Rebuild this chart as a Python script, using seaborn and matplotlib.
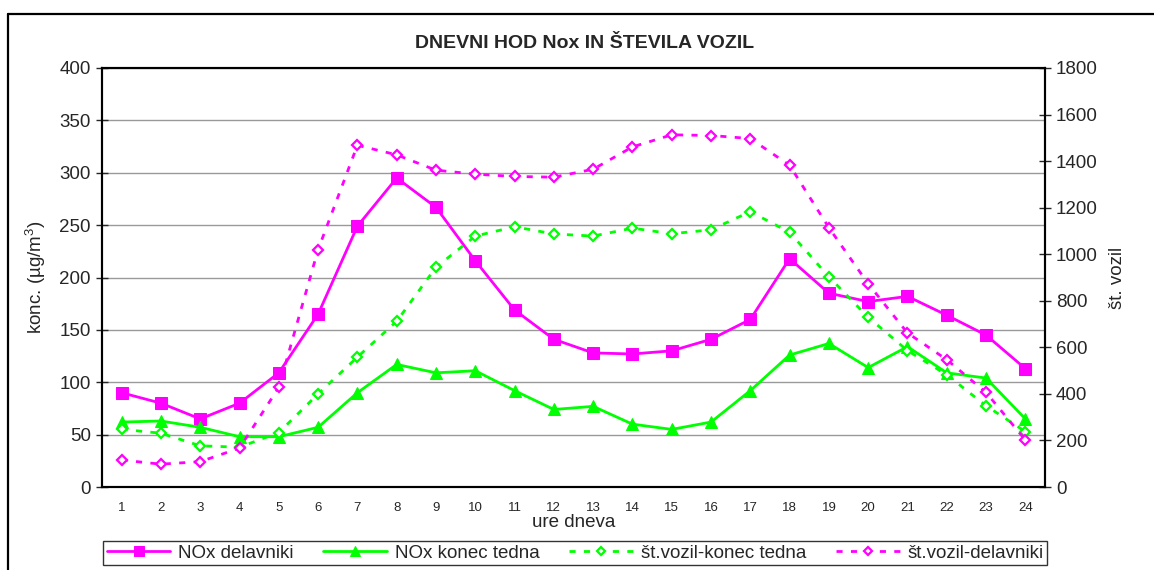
import matplotlib
matplotlib.use("Agg")
import matplotlib.pyplot as plt
import seaborn as sns
import pandas as pd
import numpy as np
from matplotlib.lines import Line2D

hours = list(range(1, 25))
nox_delavniki = [90, 80, 65, 80, 109, 165, 249, 295, 267, 216, 169, 141,
                 128, 127, 130, 141, 160, 218, 185, 177, 182, 164, 145, 113]
nox_konec_tedna = [62, 63, 57, 48, 48, 57, 90, 117, 109, 111, 92, 74,
                   77, 60, 55, 62, 92, 126, 137, 114, 134, 109, 104, 65]
vozil_konec_tedna = [248, 231, 177, 171, 234, 400, 558, 712, 944, 1078, 1118, 1087,
                     1078, 1112, 1088, 1105, 1183, 1094, 903, 729, 586, 482, 349, 238]
vozil_delavniki = [116, 98, 109, 167, 428, 1020, 1468, 1427, 1361, 1344, 1334, 1331,
                   1365, 1461, 1513, 1510, 1497, 1382, 1114, 873, 662, 547, 406, 202]
left_ticks = list(range(0, 401, 50))
right_ticks = list(range(0, 1801, 200))

sns.set_style("white")
plt.rcParams["font.family"] = ["Liberation Sans", "DejaVu Sans"]
plt.rcParams["mathtext.fontset"] = "custom"
plt.rcParams["mathtext.rm"] = "Liberation Sans"
plt.rcParams["mathtext.it"] = "Liberation Sans:italic"

df = pd.DataFrame({
    "ura": hours,
    "nox_del": nox_delavniki,
    "nox_kt": nox_konec_tedna,
    "voz_kt": vozil_konec_tedna,
    "voz_del": vozil_delavniki,
})

MAG = "#FF00FF"
GRN = "#00FF00"

fig = plt.figure(figsize=(11.54, 5.70), dpi=100)
ax = fig.add_axes([102 / 1154, 1 - 487 / 570, (1045 - 102) / 1154, (487 - 68) / 570])
ax2 = ax.twinx()

sns.lineplot(data=df, x="ura", y="nox_del", ax=ax, color=MAG, lw=2,
             marker="s", markersize=9, markeredgecolor=MAG, legend=False)
sns.lineplot(data=df, x="ura", y="nox_kt", ax=ax, color=GRN, lw=2,
             marker="^", markersize=9, markeredgecolor=GRN, legend=False)
sns.lineplot(data=df, x="ura", y="voz_kt", ax=ax2, color=GRN, lw=2,
             linestyle=(0, (2.2, 3.0)), marker="D", markersize=5,
             markerfacecolor="white", markeredgecolor=GRN, markeredgewidth=1.6, legend=False)
sns.lineplot(data=df, x="ura", y="voz_del", ax=ax2, color=MAG, lw=2,
             linestyle=(0, (2.2, 3.0)), marker="D", markersize=5,
             markerfacecolor="white", markeredgecolor=MAG, markeredgewidth=1.6, legend=False)

ax.set_xlim(0.5, 24.5)
ax.set_ylim(0, 400)
ax2.set_ylim(0, 1800)
ax.set_yticks(left_ticks)
ax2.set_yticks(right_ticks)
ax.set_xticks(hours)
ax.set_xticklabels([str(h) for h in hours], fontsize=9.5)
ax.set_xticks(np.arange(0.5, 25, 1), minor=True)
ax.tick_params(axis="x", which="major", length=0, pad=11)
ax.tick_params(axis="x", which="minor", length=8, width=1, direction="inout", color="black")
ax.tick_params(axis="y", which="major", length=8, width=1, direction="inout",
               labelsize=13.5, pad=4, left=True)
ax2.tick_params(axis="y", which="major", length=8, width=1, direction="inout",
                labelsize=13.5, pad=4, right=True)

ax.yaxis.grid(True, color="#999999", lw=1.0)
ax.set_axisbelow(True)
ax.xaxis.grid(False)
ax2.grid(False)

for a in (ax, ax2):
    for s in a.spines.values():
        s.set_color("black")
        s.set_linewidth(1.5)
        s.set_visible(True)

ax.set_xlabel("ure dneva", fontsize=13.5, labelpad=0)
ax.set_ylabel(r"konc. (µg/m$^{3}$)", fontsize=13.5, labelpad=8)
ax2.set_ylabel("št. vozil", fontsize=13.5, labelpad=8)

fig.text(585 / 1154, 1 - 43 / 570, "DNEVNI HOD Nox IN ŠTEVILA VOZIL",
         fontsize=14, fontweight="bold", ha="center", va="center")

# outer chart border
fig.add_artist(Line2D([8 / 1154, 8 / 1154], [0, 1 - 14 / 570], transform=fig.transFigure,
                      color="black", lw=1.6))
fig.add_artist(Line2D([8 / 1154, 1], [1 - 14 / 570, 1 - 14 / 570], transform=fig.transFigure,
                      color="black", lw=1.6))

lines1 = ax.get_lines()
lines2 = ax2.get_lines()
handles = [lines1[0], lines1[1], lines2[0], lines2[1]]
labels = ["NOx delavniki", "NOx konec tedna", "št.vozil-konec tedna", "št.vozil-delavniki"]
leg = fig.legend(handles, labels, ncol=4, loc="center",
                 bbox_to_anchor=((102 + 1048) / 2 / 1154, 1 - 553 / 570),
                 fontsize=13.5, frameon=True, fancybox=False, handlelength=3.4,
                 columnspacing=1.6, handletextpad=0.4, borderpad=0.2, borderaxespad=0,
                 markerscale=0.8)
leg.get_frame().set_edgecolor("black")
leg.get_frame().set_linewidth(1.0)

fig.savefig("out.png", dpi=100)
